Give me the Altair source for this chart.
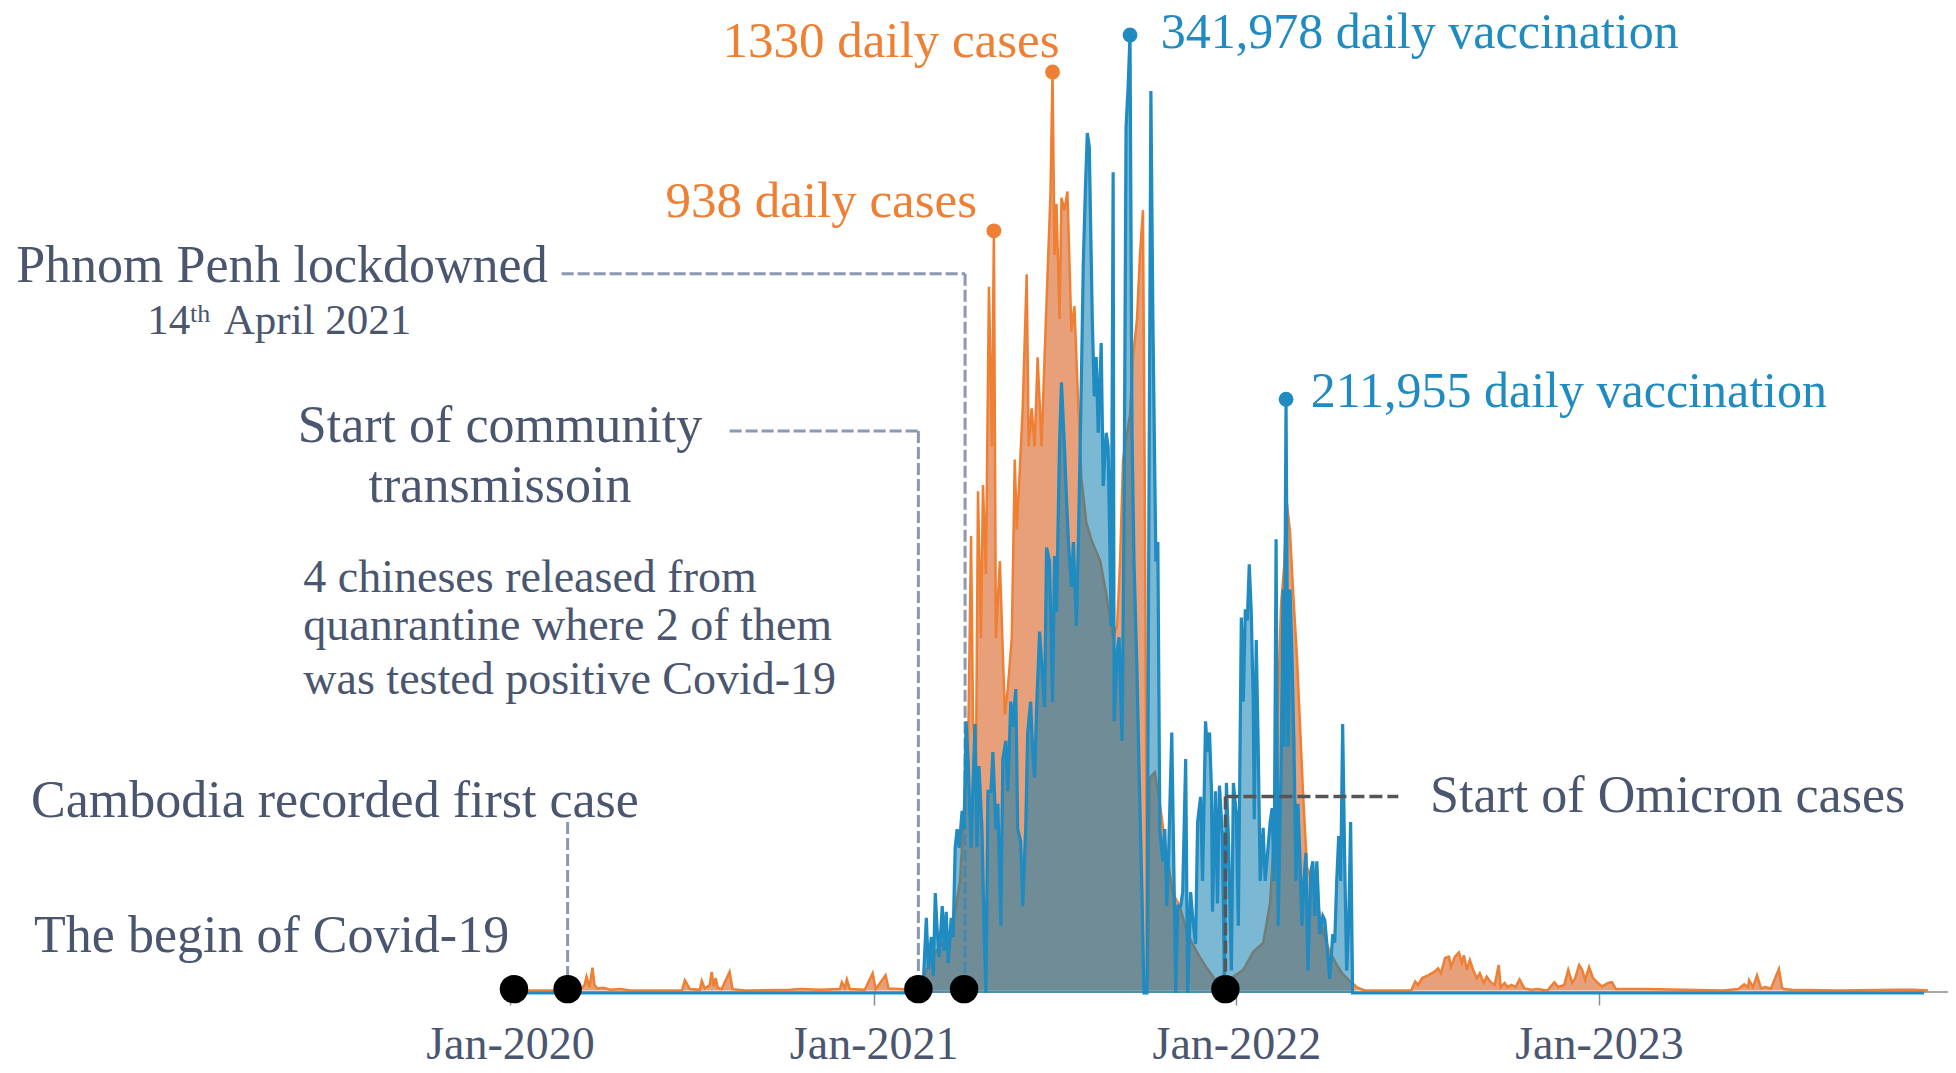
import altair as alt
import pandas as pd

FONT = "Liberation Serif"
SLATE = "#4a5670"
ORANGE = "#ee7f33"
BLUE = "#1f8bc0"
DASH_SLATE = "#8a98b2"
DASH_DARK = "#555555"

# ---- data: day offset from 2020-01-01 and value ----
case_day = [
    4, 70, 75, 77, 80, 83, 85, 88, 94, 101,
    111, 121, 173, 176, 181, 191, 193, 196, 201, 203,
    205, 207, 209, 213, 221, 224, 237, 282, 292, 312,
    332, 334, 337, 339, 342, 357, 365, 368, 378, 381,
    392, 403, 416, 430, 440, 446, 453, 458, 461, 464,
    466, 469, 471, 474, 476, 479, 482, 485, 487, 489,
    493, 498, 501, 505, 508, 510, 513, 516, 520, 522,
    525, 528, 531, 535, 538, 541, 544, 546, 548, 550,
    553, 555, 558, 561, 565, 568, 571, 575, 580, 586,
    594, 600, 607, 611, 614, 617, 621, 624, 627, 631,
    634, 637, 639, 641, 642, 644, 649, 654, 661, 667,
    674, 681, 687, 694, 702, 712, 725, 738, 748, 758,
    765, 770, 773, 776, 779, 782, 785, 788, 792, 795,
    798, 802, 805, 810, 815, 820, 825, 832, 838, 845,
    853, 860, 907, 911, 914, 918, 924, 930, 934, 937,
    941, 945, 947, 951, 955, 958, 960, 963, 966, 970,
    973, 976, 980, 983, 987, 991, 995, 997, 1001, 1004,
    1008, 1012, 1016, 1021, 1028, 1034, 1044, 1051, 1055, 1061,
    1065, 1069, 1072, 1076, 1079, 1082, 1086, 1090, 1094, 1099,
    1105, 1109, 1113, 1128, 1143, 1182, 1221, 1236, 1242, 1246,
    1247, 1251, 1255, 1259, 1263, 1269, 1277, 1280, 1282, 1290,
    1337, 1394, 1413, 1427]

case_val = [
    0, 0, 8, 20, 5, 33, 8, 3, 4, 1,
    2, 0, 0, 15, 2, 1, 14, 3, 8, 27,
    6, 18, 4, 2, 27, 2, 0, 1, 2, 1,
    2, 12, 4, 16, 2, 1, 25, 2, 22, 3,
    2, 1, 21, 59, 77, 95, 160, 289, 344, 658,
    390, 326, 723, 510, 732, 603, 1019, 788, 1100, 510,
    622, 400, 437, 510, 769, 668, 751, 843, 1037, 788,
    843, 788, 917, 788, 917, 1037, 1157, 1330, 1065, 1139,
    972, 1148, 1130, 1157, 954, 991, 880, 742, 677, 649,
    622, 575, 510, 529, 622, 769, 806, 834, 917, 972,
    1065, 1130, 695, 95, 12, 308, 316, 270, 196, 141,
    122, 86, 67, 49, 31, 11, 17, 30, 56, 69,
    127, 257, 418, 559, 612, 705, 664, 580, 483, 386,
    289, 179, 166, 160, 108, 76, 56, 37, 24, 14,
    4, 0, 0, 13, 8, 18, 22, 27, 32, 25,
    47, 49, 34, 49, 55, 40, 51, 30, 44, 27,
    18, 25, 11, 20, 12, 8, 37, 5, 11, 5,
    8, 5, 16, 3, 1, 2, 0, 12, 5, 8,
    30, 11, 18, 37, 30, 15, 34, 18, 12, 6,
    11, 12, 2, 2, 2, 1, 0, 2, 9, 5,
    15, 5, 22, 3, 5, 3, 31, 5, 2, 1,
    0, 1, 1, 0]

vacc_day = [
    4, 413, 416, 419, 421, 424, 426, 428, 430, 432,
    435, 437, 439, 441, 444, 446, 448, 450, 452, 455,
    457, 459, 461, 464, 466, 468, 470, 472, 475, 477,
    479, 481, 484, 486, 489, 491, 494, 496, 499, 501,
    504, 506, 509, 511, 514, 516, 519, 521, 524, 526,
    528, 530, 533, 536, 538, 540, 543, 546, 548, 550,
    553, 555, 558, 560, 562, 565, 567, 570, 572, 575,
    577, 579, 581, 583, 586, 588, 590, 592, 595, 597,
    600, 602, 605, 607, 608, 611, 613, 616, 618, 620,
    622, 624, 626, 628, 631, 633, 636, 638, 641, 643,
    645, 647, 650, 652, 654, 657, 659, 661, 663, 666,
    668, 670, 672, 675, 677, 680, 682, 685, 687, 690,
    692, 695, 697, 700, 702, 704, 706, 707, 710, 712,
    714, 717, 719, 721, 723, 726, 728, 731, 733, 736,
    738, 740, 742, 744, 746, 748, 749, 751, 753, 755,
    758, 760, 762, 765, 767, 769, 771, 773, 776, 778,
    779, 781, 783, 785, 787, 789, 791, 793, 795, 797,
    799, 801, 803, 806, 808, 810, 812, 815, 818, 820,
    822, 825, 828, 830, 832, 834, 836, 838, 840, 842,
    844, 846, 848, 1423]

vacc_val = [
    0, 0, 3900, 26800, 8600, 20000, 6000, 35700, 22000, 12900,
    31000, 15000, 29000, 10700, 26800, 20000, 51800, 58500, 51800, 65000,
    58500, 97000, 83500, 51800, 74600, 96000, 52000, 81000, 58500, 24000,
    0, 72000, 72000, 86000, 58500, 67500, 24000, 83500, 90000, 72000,
    104000, 95000, 108500, 58500, 54000, 31000, 58500, 93000, 104000, 86000,
    77000, 102000, 129000, 113000, 102000, 159000, 154000, 104000, 156000, 136000,
    195000, 218000, 195000, 177000, 161000, 145000, 161000, 131000, 161000, 218000,
    261000, 286000, 307000, 302000, 241000, 213000, 227000, 200000, 232000, 181000,
    200000, 195000, 131000, 293000, 97000, 122000, 127000, 90000, 172000, 309000,
    323000, 341978, 200000, 154000, 115000, 81000, 36000, 0, 0, 172000,
    322000, 241000, 154000, 161000, 58500, 47000, 58500, 31000, 52000, 93000,
    47000, 0, 31000, 31000, 36000, 83500, 0, 36000, 27000, 17500,
    61000, 70000, 40000, 97000, 86000, 93000, 72000, 29000, 72000, 32000,
    74000, 56000, 3600, 75000, 56000, 8000, 75000, 64000, 24000, 134000,
    104000, 137000, 133000, 153000, 136000, 104000, 62000, 126000, 88000, 40000,
    59000, 40000, 48000, 61000, 66000, 40000, 162000, 24000, 80000, 144000,
    88000, 211955, 88000, 144000, 120000, 88000, 40000, 67500, 48000, 24000,
    40000, 50000, 8000, 43500, 47000, 27500, 47000, 21000, 27500, 26000,
    18000, 5000, 21000, 18000, 40000, 56000, 40000, 96000, 48000, 8000,
    24000, 61000, 0, 0]

assert len(case_day) == len(case_val) and len(vacc_day) == len(vacc_val)

tick_years = [2020, 2021, 2022, 2023]

# event markers (day offsets)
event_days = [4, 58, 411, 457, 720]

# annotation texts: (day, value on the cases scale, label)
slate_big_left = [(-479, 79, "The begin of Covid-19"),
                  (-482, 275, "Cambodia recorded first case"),
                  (-497, 1049, "Phnom Penh lockdowned"),
                  (926, 281, "Start of Omicron cases")]
slate_big_center = [(-10, 817, "Start of community"),
                    (-10, 730, "transmissoin")]
slate_small_left = [(-208, 597, "4 chineses released from"),
                    (-208, 528, "quanrantine where 2 of them"),
                    (-208, 449, "was tested positive Covid-19")]
date_main = [(-365, 969, "14"), (-288, 969, "April 2021")]
date_sup = [(-322, 980, "th")]
orange_labels = [(470, 1142, "938 daily cases"), (553, 1373, "1330 daily cases")]
blue_labels = [(655, 1387, "341,978 daily vaccination"), (806, 867, "211,955 daily vaccination")]

case_marks = [(487, 1100), (546, 1330)]
vacc_marks = [(624, 341978), (781, 211955)]

# connectors: (day, val, day2, val2)
slate_lines = [(58, 244, 58, 0),
               (221, 810, 411, 810), (411, 810, 411, 10),
               (52, 1038, 458, 1038), (458, 1038, 458, 10)]
dark_lines = [(720, 281, 894, 281), (720, 281, 720, 10)]
baseline_span = [(4, -2, 1448, -2)]

# ---- helpers ----
BASE = pd.Timestamp("2020-01-01")


def ds(d):
    return (BASE + pd.Timedelta(days=int(d))).strftime("%Y-%m-%d")


XS = alt.Scale(type="utc", domain=[
    alt.DateTime(year=2018, month=8, date=13, hours=19, minutes=12, utc=True),
    alt.DateTime(year=2023, month=12, date=18, hours=4, minutes=48, utc=True)])
XAXIS = alt.Axis(
    values=[alt.DateTime(year=y, month=1, date=1, utc=True) for y in tick_years],
    labelExpr="utcFormat(datum.value, '%b-%Y')",
    domain=False, grid=False, ticks=True, tickSize=12, tickColor="#8a8a8a",
    tickWidth=1.5, labelFont=FONT, labelFontSize=46, labelColor=SLATE,
    labelPadding=17, labelLimit=600, labelFlush=False, labelOverlap=False,
    title=None)
X = alt.X("date:T", scale=XS, axis=XAXIS)

CASE_SCALE = alt.Scale(domain=[-3.62, 1422.7], nice=False, zero=False)
VACC_SCALE = alt.Scale(domain=[0, 351617], nice=False, zero=False)

cases_df = pd.DataFrame({"date": [ds(d) for d in case_day], "val": case_val})
vacc_df = pd.DataFrame({"date": [ds(d) for d in vacc_day], "val": vacc_val})


def lines_df(rows):
    return pd.DataFrame({"date": [ds(r[0]) for r in rows], "val": [r[1] for r in rows],
                         "date2": [ds(r[2]) for r in rows], "val2": [r[3] for r in rows]})


def text_df(rows):
    return pd.DataFrame({"date": [ds(r[0]) for r in rows], "val": [r[1] for r in rows],
                         "label": [r[2] for r in rows]})


def rule_layer(rows, color, dash, width):
    kw = dict(color=color, strokeWidth=width)
    if dash:
        kw["strokeDash"] = dash
    return alt.Chart(lines_df(rows)).mark_rule(**kw).encode(
        x=X, x2="date2:T",
        y=alt.Y("val:Q", scale=CASE_SCALE, axis=None), y2="val2:Q")


def text_layer(rows, size, color, align):
    return alt.Chart(text_df(rows)).mark_text(
        font=FONT, fontSize=size, color=color, align=align, baseline="middle").encode(
        x=X, y=alt.Y("val:Q", scale=CASE_SCALE, axis=None), text="label:N")


base_rule = rule_layer(baseline_span, "#8a8a8a", None, 1.5)

orange_area = alt.Chart(cases_df).mark_area(
    color="#e8a07a", opacity=1, line={"color": ORANGE, "strokeWidth": 2.5}).encode(
    x=X, y=alt.Y("val:Q", scale=CASE_SCALE, axis=None), y2=alt.datum(0))

slate_rules = rule_layer(slate_lines, DASH_SLATE, [12, 4], 3)

blue_area = alt.Chart(vacc_df).mark_area(color="#097baf", opacity=0.54).encode(
    x=X, y=alt.Y("val:Q", scale=VACC_SCALE, axis=None))

blue_line = alt.Chart(vacc_df).mark_line(color=BLUE, strokeWidth=3.2).encode(
    x=X, y=alt.Y("val:Q", scale=VACC_SCALE, axis=None))

dark_rules = rule_layer(dark_lines, DASH_DARK, [13, 5], 3.5)

events = alt.Chart(pd.DataFrame({"date": [ds(d) for d in event_days],
                                 "val": [2] * len(event_days)})).mark_circle(
    size=810, color="black", opacity=1).encode(
    x=X, y=alt.Y("val:Q", scale=CASE_SCALE, axis=None))

case_dots = alt.Chart(pd.DataFrame({"date": [ds(d) for d, v in case_marks],
                                    "val": [v for d, v in case_marks]})).mark_circle(
    size=220, color=ORANGE, opacity=1).encode(
    x=X, y=alt.Y("val:Q", scale=CASE_SCALE, axis=None))

vacc_dots = alt.Chart(pd.DataFrame({"date": [ds(d) for d, v in vacc_marks],
                                    "val": [v for d, v in vacc_marks]})).mark_circle(
    size=220, color=BLUE, opacity=1).encode(
    x=X, y=alt.Y("val:Q", scale=VACC_SCALE, axis=None))

layers = [
    base_rule, orange_area, slate_rules, blue_area, blue_line, dark_rules,
    events, case_dots, vacc_dots,
    text_layer(slate_big_left, 52, SLATE, "left"),
    text_layer(slate_big_center, 52, SLATE, "center"),
    text_layer(slate_small_left, 46, SLATE, "left"),
    text_layer(date_main, 43, SLATE, "left"),
    text_layer(date_sup, 26, SLATE, "left"),
    text_layer(orange_labels, 51, ORANGE, "right"),
    text_layer(blue_labels, 50, BLUE, "left"),
]

chart = alt.layer(*layers).resolve_scale(y="independent").properties(
    width=1940, height=985,
    autosize=alt.AutoSizeParams(type="none"),
    padding={"left": 0, "top": 0, "right": 0, "bottom": 80},
    background="white",
).configure_view(stroke=None)

chart.save("out.html", embed_options={"renderer": "svg", "actions": False})
